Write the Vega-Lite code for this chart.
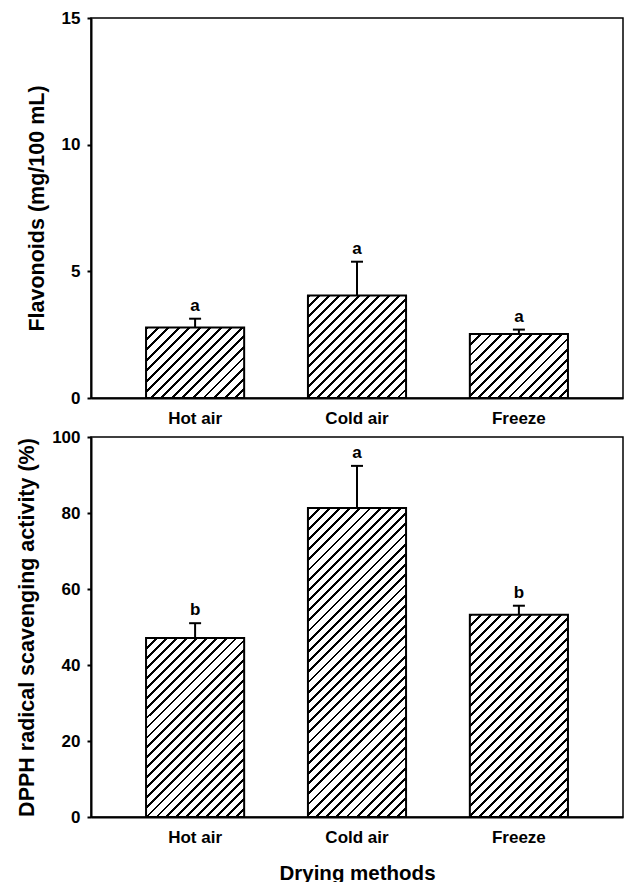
{
"$schema": "https://vega.github.io/schema/vega-lite/v6.json",
"autosize": {"type": "none"},
"padding": {"left": 91, "top": 18, "right": 534, "bottom": 864},
"background": "white",
"datasets": {
"flav": [
{"method": "Hot air", "value": 2.78, "upper": 3.13, "letter": "a"},
{"method": "Cold air", "value": 4.05, "upper": 5.38, "letter": "a"},
{"method": "Freeze", "value": 2.53, "upper": 2.7, "letter": "a"}
],
"dpph": [
{"method": "Hot air", "value": 47.1, "upper": 51.0, "letter": "b"},
{"method": "Cold air", "value": 81.3, "upper": 92.4, "letter": "a"},
{"method": "Freeze", "value": 53.2, "upper": 55.6, "letter": "b"}
]
},
"spacing": 39,
"bounds": "flush",
"vconcat": [
{
"width": 532, "height": 380,
"data": {"name": "flav"},
"encoding": {
"x": {"field": "method", "type": "nominal", "sort": ["Hot air", "Cold air", "Freeze"], "scale": {"paddingInner": 0.394, "paddingOuter": 0.34}, "axis": {"title": null}},
"y": {"field": "value", "type": "quantitative", "scale": {"domain": [0, 15], "nice": false}, "axis": {"values": [0, 5, 10, 15], "title": "Flavonoids (mg/100 mL)"}}
},
"layer": [
{"transform": [{"filter": "datum.method === 'Hot air'"}], "mark": {"type": "bar", "stroke": "black", "strokeWidth": 2, "fill": {"gradient": "linear", "x1": 0, "y1": 0, "x2": 1.1336, "y2": 0.8139, "stops": [
{"offset":0,"color":"#000"},{"offset":0.0175,"color":"#000"},{"offset":0.0175,"color":"#fff"},
{"offset":0.0625,"color":"#fff"},{"offset":0.0625,"color":"#000"},{"offset":0.08,"color":"#000"},{"offset":0.08,"color":"#fff"},
{"offset":0.125,"color":"#fff"},{"offset":0.125,"color":"#000"},{"offset":0.1425,"color":"#000"},{"offset":0.1425,"color":"#fff"},
{"offset":0.1875,"color":"#fff"},{"offset":0.1875,"color":"#000"},{"offset":0.205,"color":"#000"},{"offset":0.205,"color":"#fff"},
{"offset":0.25,"color":"#fff"},{"offset":0.25,"color":"#000"},{"offset":0.2675,"color":"#000"},{"offset":0.2675,"color":"#fff"},
{"offset":0.3125,"color":"#fff"},{"offset":0.3125,"color":"#000"},{"offset":0.33,"color":"#000"},{"offset":0.33,"color":"#fff"},
{"offset":0.375,"color":"#fff"},{"offset":0.375,"color":"#000"},{"offset":0.3925,"color":"#000"},{"offset":0.3925,"color":"#fff"},
{"offset":0.4375,"color":"#fff"},{"offset":0.4375,"color":"#000"},{"offset":0.455,"color":"#000"},{"offset":0.455,"color":"#fff"},
{"offset":0.5,"color":"#fff"},{"offset":0.5,"color":"#000"},{"offset":0.5175,"color":"#000"},{"offset":0.5175,"color":"#fff"},
{"offset":0.5625,"color":"#fff"},{"offset":0.5625,"color":"#000"},{"offset":0.58,"color":"#000"},{"offset":0.58,"color":"#fff"},
{"offset":0.625,"color":"#fff"},{"offset":0.625,"color":"#000"},{"offset":0.6425,"color":"#000"},{"offset":0.6425,"color":"#fff"},
{"offset":0.6875,"color":"#fff"},{"offset":0.6875,"color":"#000"},{"offset":0.705,"color":"#000"},{"offset":0.705,"color":"#fff"},
{"offset":0.75,"color":"#fff"},{"offset":0.75,"color":"#000"},{"offset":0.7675,"color":"#000"},{"offset":0.7675,"color":"#fff"},
{"offset":0.8125,"color":"#fff"},{"offset":0.8125,"color":"#000"},{"offset":0.83,"color":"#000"},{"offset":0.83,"color":"#fff"},
{"offset":0.875,"color":"#fff"},{"offset":0.875,"color":"#000"},{"offset":0.8925,"color":"#000"},{"offset":0.8925,"color":"#fff"},
{"offset":0.9375,"color":"#fff"},{"offset":0.9375,"color":"#000"},{"offset":0.955,"color":"#000"},{"offset":0.955,"color":"#fff"},
{"offset":1,"color":"#fff"}]}}},
{"transform": [{"filter": "datum.method === 'Cold air'"}], "mark": {"type": "bar", "stroke": "black", "strokeWidth": 2, "fill": {"gradient": "linear", "x1": 0, "y1": 0, "x2": 0.9771, "y2": 1.0219, "stops": [
{"offset":0,"color":"#000"},{"offset":0.014,"color":"#000"},{"offset":0.014,"color":"#fff"},
{"offset":0.05,"color":"#fff"},{"offset":0.05,"color":"#000"},{"offset":0.064,"color":"#000"},{"offset":0.064,"color":"#fff"},
{"offset":0.1,"color":"#fff"},{"offset":0.1,"color":"#000"},{"offset":0.114,"color":"#000"},{"offset":0.114,"color":"#fff"},
{"offset":0.15,"color":"#fff"},{"offset":0.15,"color":"#000"},{"offset":0.164,"color":"#000"},{"offset":0.164,"color":"#fff"},
{"offset":0.2,"color":"#fff"},{"offset":0.2,"color":"#000"},{"offset":0.214,"color":"#000"},{"offset":0.214,"color":"#fff"},
{"offset":0.25,"color":"#fff"},{"offset":0.25,"color":"#000"},{"offset":0.264,"color":"#000"},{"offset":0.264,"color":"#fff"},
{"offset":0.3,"color":"#fff"},{"offset":0.3,"color":"#000"},{"offset":0.314,"color":"#000"},{"offset":0.314,"color":"#fff"},
{"offset":0.35,"color":"#fff"},{"offset":0.35,"color":"#000"},{"offset":0.364,"color":"#000"},{"offset":0.364,"color":"#fff"},
{"offset":0.4,"color":"#fff"},{"offset":0.4,"color":"#000"},{"offset":0.414,"color":"#000"},{"offset":0.414,"color":"#fff"},
{"offset":0.45,"color":"#fff"},{"offset":0.45,"color":"#000"},{"offset":0.464,"color":"#000"},{"offset":0.464,"color":"#fff"},
{"offset":0.5,"color":"#fff"},{"offset":0.5,"color":"#000"},{"offset":0.514,"color":"#000"},{"offset":0.514,"color":"#fff"},
{"offset":0.55,"color":"#fff"},{"offset":0.55,"color":"#000"},{"offset":0.564,"color":"#000"},{"offset":0.564,"color":"#fff"},
{"offset":0.6,"color":"#fff"},{"offset":0.6,"color":"#000"},{"offset":0.614,"color":"#000"},{"offset":0.614,"color":"#fff"},
{"offset":0.65,"color":"#fff"},{"offset":0.65,"color":"#000"},{"offset":0.664,"color":"#000"},{"offset":0.664,"color":"#fff"},
{"offset":0.7,"color":"#fff"},{"offset":0.7,"color":"#000"},{"offset":0.714,"color":"#000"},{"offset":0.714,"color":"#fff"},
{"offset":0.75,"color":"#fff"},{"offset":0.75,"color":"#000"},{"offset":0.764,"color":"#000"},{"offset":0.764,"color":"#fff"},
{"offset":0.8,"color":"#fff"},{"offset":0.8,"color":"#000"},{"offset":0.814,"color":"#000"},{"offset":0.814,"color":"#fff"},
{"offset":0.85,"color":"#fff"},{"offset":0.85,"color":"#000"},{"offset":0.864,"color":"#000"},{"offset":0.864,"color":"#fff"},
{"offset":0.9,"color":"#fff"},{"offset":0.9,"color":"#000"},{"offset":0.914,"color":"#000"},{"offset":0.914,"color":"#fff"},
{"offset":0.95,"color":"#fff"},{"offset":0.95,"color":"#000"},{"offset":0.964,"color":"#000"},{"offset":0.964,"color":"#fff"},
{"offset":1,"color":"#fff"}]}}},
{"transform": [{"filter": "datum.method === 'Freeze'"}], "mark": {"type": "bar", "stroke": "black", "strokeWidth": 2, "fill": {"gradient": "linear", "x1": 0, "y1": 0, "x2": 1.1587, "y2": 0.757, "stops": [
{"offset":0,"color":"#000"},{"offset":0.0175,"color":"#000"},{"offset":0.0175,"color":"#fff"},
{"offset":0.0625,"color":"#fff"},{"offset":0.0625,"color":"#000"},{"offset":0.08,"color":"#000"},{"offset":0.08,"color":"#fff"},
{"offset":0.125,"color":"#fff"},{"offset":0.125,"color":"#000"},{"offset":0.1425,"color":"#000"},{"offset":0.1425,"color":"#fff"},
{"offset":0.1875,"color":"#fff"},{"offset":0.1875,"color":"#000"},{"offset":0.205,"color":"#000"},{"offset":0.205,"color":"#fff"},
{"offset":0.25,"color":"#fff"},{"offset":0.25,"color":"#000"},{"offset":0.2675,"color":"#000"},{"offset":0.2675,"color":"#fff"},
{"offset":0.3125,"color":"#fff"},{"offset":0.3125,"color":"#000"},{"offset":0.33,"color":"#000"},{"offset":0.33,"color":"#fff"},
{"offset":0.375,"color":"#fff"},{"offset":0.375,"color":"#000"},{"offset":0.3925,"color":"#000"},{"offset":0.3925,"color":"#fff"},
{"offset":0.4375,"color":"#fff"},{"offset":0.4375,"color":"#000"},{"offset":0.455,"color":"#000"},{"offset":0.455,"color":"#fff"},
{"offset":0.5,"color":"#fff"},{"offset":0.5,"color":"#000"},{"offset":0.5175,"color":"#000"},{"offset":0.5175,"color":"#fff"},
{"offset":0.5625,"color":"#fff"},{"offset":0.5625,"color":"#000"},{"offset":0.58,"color":"#000"},{"offset":0.58,"color":"#fff"},
{"offset":0.625,"color":"#fff"},{"offset":0.625,"color":"#000"},{"offset":0.6425,"color":"#000"},{"offset":0.6425,"color":"#fff"},
{"offset":0.6875,"color":"#fff"},{"offset":0.6875,"color":"#000"},{"offset":0.705,"color":"#000"},{"offset":0.705,"color":"#fff"},
{"offset":0.75,"color":"#fff"},{"offset":0.75,"color":"#000"},{"offset":0.7675,"color":"#000"},{"offset":0.7675,"color":"#fff"},
{"offset":0.8125,"color":"#fff"},{"offset":0.8125,"color":"#000"},{"offset":0.83,"color":"#000"},{"offset":0.83,"color":"#fff"},
{"offset":0.875,"color":"#fff"},{"offset":0.875,"color":"#000"},{"offset":0.8925,"color":"#000"},{"offset":0.8925,"color":"#fff"},
{"offset":0.9375,"color":"#fff"},{"offset":0.9375,"color":"#000"},{"offset":0.955,"color":"#000"},{"offset":0.955,"color":"#fff"},
{"offset":1,"color":"#fff"}]}}},
{"mark": {"type": "rule", "strokeWidth": 2, "color": "black"}, "encoding": {"y2": {"field": "upper"}}},
{"mark": {"type": "tick", "size": 12, "thickness": 2, "color": "black", "opacity": 1}, "encoding": {"y": {"field": "upper", "type": "quantitative"}}},
{"mark": {"type": "text", "dy": -8, "fontSize": 17, "fontWeight": "bold", "font": "Liberation Sans", "baseline": "alphabetic", "color": "black"}, "encoding": {"y": {"field": "upper", "type": "quantitative"}, "text": {"field": "letter"}}}
]
},
{
"width": 532, "height": 380,
"data": {"name": "dpph"},
"encoding": {
"x": {"field": "method", "type": "nominal", "sort": ["Hot air", "Cold air", "Freeze"], "scale": {"paddingInner": 0.394, "paddingOuter": 0.34}, "axis": {"title": "Drying methods", "titleFontSize": 20.5, "titlePadding": 18}},
"y": {"field": "value", "type": "quantitative", "scale": {"domain": [0, 100], "nice": false}, "axis": {"values": [0, 20, 40, 60, 80, 100], "title": "DPPH radical scavenging activity (%)"}}
},
"layer": [
{"transform": [{"filter": "datum.method === 'Hot air'"}], "mark": {"type": "bar", "stroke": "black", "strokeWidth": 2, "fill": {"gradient": "linear", "x1": 0, "y1": 0, "x2": 0.6525, "y2": 1.1905, "stops": [
{"offset":0,"color":"#000"},{"offset":0.01,"color":"#000"},{"offset":0.01,"color":"#fff"},
{"offset":0.0357,"color":"#fff"},{"offset":0.0357,"color":"#000"},{"offset":0.0457,"color":"#000"},{"offset":0.0457,"color":"#fff"},
{"offset":0.0714,"color":"#fff"},{"offset":0.0714,"color":"#000"},{"offset":0.0814,"color":"#000"},{"offset":0.0814,"color":"#fff"},
{"offset":0.1071,"color":"#fff"},{"offset":0.1071,"color":"#000"},{"offset":0.1171,"color":"#000"},{"offset":0.1171,"color":"#fff"},
{"offset":0.1429,"color":"#fff"},{"offset":0.1429,"color":"#000"},{"offset":0.1529,"color":"#000"},{"offset":0.1529,"color":"#fff"},
{"offset":0.1786,"color":"#fff"},{"offset":0.1786,"color":"#000"},{"offset":0.1886,"color":"#000"},{"offset":0.1886,"color":"#fff"},
{"offset":0.2143,"color":"#fff"},{"offset":0.2143,"color":"#000"},{"offset":0.2243,"color":"#000"},{"offset":0.2243,"color":"#fff"},
{"offset":0.25,"color":"#fff"},{"offset":0.25,"color":"#000"},{"offset":0.26,"color":"#000"},{"offset":0.26,"color":"#fff"},
{"offset":0.2857,"color":"#fff"},{"offset":0.2857,"color":"#000"},{"offset":0.2957,"color":"#000"},{"offset":0.2957,"color":"#fff"},
{"offset":0.3214,"color":"#fff"},{"offset":0.3214,"color":"#000"},{"offset":0.3314,"color":"#000"},{"offset":0.3314,"color":"#fff"},
{"offset":0.3571,"color":"#fff"},{"offset":0.3571,"color":"#000"},{"offset":0.3671,"color":"#000"},{"offset":0.3671,"color":"#fff"},
{"offset":0.3929,"color":"#fff"},{"offset":0.3929,"color":"#000"},{"offset":0.4029,"color":"#000"},{"offset":0.4029,"color":"#fff"},
{"offset":0.4286,"color":"#fff"},{"offset":0.4286,"color":"#000"},{"offset":0.4386,"color":"#000"},{"offset":0.4386,"color":"#fff"},
{"offset":0.4643,"color":"#fff"},{"offset":0.4643,"color":"#000"},{"offset":0.4743,"color":"#000"},{"offset":0.4743,"color":"#fff"},
{"offset":0.5,"color":"#fff"},{"offset":0.5,"color":"#000"},{"offset":0.51,"color":"#000"},{"offset":0.51,"color":"#fff"},
{"offset":0.5357,"color":"#fff"},{"offset":0.5357,"color":"#000"},{"offset":0.5457,"color":"#000"},{"offset":0.5457,"color":"#fff"},
{"offset":0.5714,"color":"#fff"},{"offset":0.5714,"color":"#000"},{"offset":0.5814,"color":"#000"},{"offset":0.5814,"color":"#fff"},
{"offset":0.6071,"color":"#fff"},{"offset":0.6071,"color":"#000"},{"offset":0.6171,"color":"#000"},{"offset":0.6171,"color":"#fff"},
{"offset":0.6429,"color":"#fff"},{"offset":0.6429,"color":"#000"},{"offset":0.6529,"color":"#000"},{"offset":0.6529,"color":"#fff"},
{"offset":0.6786,"color":"#fff"},{"offset":0.6786,"color":"#000"},{"offset":0.6886,"color":"#000"},{"offset":0.6886,"color":"#fff"},
{"offset":0.7143,"color":"#fff"},{"offset":0.7143,"color":"#000"},{"offset":0.7243,"color":"#000"},{"offset":0.7243,"color":"#fff"},
{"offset":0.75,"color":"#fff"},{"offset":0.75,"color":"#000"},{"offset":0.76,"color":"#000"},{"offset":0.76,"color":"#fff"},
{"offset":0.7857,"color":"#fff"},{"offset":0.7857,"color":"#000"},{"offset":0.7957,"color":"#000"},{"offset":0.7957,"color":"#fff"},
{"offset":0.8214,"color":"#fff"},{"offset":0.8214,"color":"#000"},{"offset":0.8314,"color":"#000"},{"offset":0.8314,"color":"#fff"},
{"offset":0.8571,"color":"#fff"},{"offset":0.8571,"color":"#000"},{"offset":0.8671,"color":"#000"},{"offset":0.8671,"color":"#fff"},
{"offset":0.8929,"color":"#fff"},{"offset":0.8929,"color":"#000"},{"offset":0.9029,"color":"#000"},{"offset":0.9029,"color":"#fff"},
{"offset":0.9286,"color":"#fff"},{"offset":0.9286,"color":"#000"},{"offset":0.9386,"color":"#000"},{"offset":0.9386,"color":"#fff"},
{"offset":0.9643,"color":"#fff"},{"offset":0.9643,"color":"#000"},{"offset":0.9743,"color":"#000"},{"offset":0.9743,"color":"#fff"},
{"offset":1,"color":"#fff"}]}}},
{"transform": [{"filter": "datum.method === 'Cold air'"}], "mark": {"type": "bar", "stroke": "black", "strokeWidth": 2, "fill": {"gradient": "linear", "x1": 0, "y1": 0, "x2": 0.3801, "y2": 1.1969, "stops": [
{"offset":0,"color":"#000"},{"offset":0.007,"color":"#000"},{"offset":0.007,"color":"#fff"},
{"offset":0.025,"color":"#fff"},{"offset":0.025,"color":"#000"},{"offset":0.032,"color":"#000"},{"offset":0.032,"color":"#fff"},
{"offset":0.05,"color":"#fff"},{"offset":0.05,"color":"#000"},{"offset":0.057,"color":"#000"},{"offset":0.057,"color":"#fff"},
{"offset":0.075,"color":"#fff"},{"offset":0.075,"color":"#000"},{"offset":0.082,"color":"#000"},{"offset":0.082,"color":"#fff"},
{"offset":0.1,"color":"#fff"},{"offset":0.1,"color":"#000"},{"offset":0.107,"color":"#000"},{"offset":0.107,"color":"#fff"},
{"offset":0.125,"color":"#fff"},{"offset":0.125,"color":"#000"},{"offset":0.132,"color":"#000"},{"offset":0.132,"color":"#fff"},
{"offset":0.15,"color":"#fff"},{"offset":0.15,"color":"#000"},{"offset":0.157,"color":"#000"},{"offset":0.157,"color":"#fff"},
{"offset":0.175,"color":"#fff"},{"offset":0.175,"color":"#000"},{"offset":0.182,"color":"#000"},{"offset":0.182,"color":"#fff"},
{"offset":0.2,"color":"#fff"},{"offset":0.2,"color":"#000"},{"offset":0.207,"color":"#000"},{"offset":0.207,"color":"#fff"},
{"offset":0.225,"color":"#fff"},{"offset":0.225,"color":"#000"},{"offset":0.232,"color":"#000"},{"offset":0.232,"color":"#fff"},
{"offset":0.25,"color":"#fff"},{"offset":0.25,"color":"#000"},{"offset":0.257,"color":"#000"},{"offset":0.257,"color":"#fff"},
{"offset":0.275,"color":"#fff"},{"offset":0.275,"color":"#000"},{"offset":0.282,"color":"#000"},{"offset":0.282,"color":"#fff"},
{"offset":0.3,"color":"#fff"},{"offset":0.3,"color":"#000"},{"offset":0.307,"color":"#000"},{"offset":0.307,"color":"#fff"},
{"offset":0.325,"color":"#fff"},{"offset":0.325,"color":"#000"},{"offset":0.332,"color":"#000"},{"offset":0.332,"color":"#fff"},
{"offset":0.35,"color":"#fff"},{"offset":0.35,"color":"#000"},{"offset":0.357,"color":"#000"},{"offset":0.357,"color":"#fff"},
{"offset":0.375,"color":"#fff"},{"offset":0.375,"color":"#000"},{"offset":0.382,"color":"#000"},{"offset":0.382,"color":"#fff"},
{"offset":0.4,"color":"#fff"},{"offset":0.4,"color":"#000"},{"offset":0.407,"color":"#000"},{"offset":0.407,"color":"#fff"},
{"offset":0.425,"color":"#fff"},{"offset":0.425,"color":"#000"},{"offset":0.432,"color":"#000"},{"offset":0.432,"color":"#fff"},
{"offset":0.45,"color":"#fff"},{"offset":0.45,"color":"#000"},{"offset":0.457,"color":"#000"},{"offset":0.457,"color":"#fff"},
{"offset":0.475,"color":"#fff"},{"offset":0.475,"color":"#000"},{"offset":0.482,"color":"#000"},{"offset":0.482,"color":"#fff"},
{"offset":0.5,"color":"#fff"},{"offset":0.5,"color":"#000"},{"offset":0.507,"color":"#000"},{"offset":0.507,"color":"#fff"},
{"offset":0.525,"color":"#fff"},{"offset":0.525,"color":"#000"},{"offset":0.532,"color":"#000"},{"offset":0.532,"color":"#fff"},
{"offset":0.55,"color":"#fff"},{"offset":0.55,"color":"#000"},{"offset":0.557,"color":"#000"},{"offset":0.557,"color":"#fff"},
{"offset":0.575,"color":"#fff"},{"offset":0.575,"color":"#000"},{"offset":0.582,"color":"#000"},{"offset":0.582,"color":"#fff"},
{"offset":0.6,"color":"#fff"},{"offset":0.6,"color":"#000"},{"offset":0.607,"color":"#000"},{"offset":0.607,"color":"#fff"},
{"offset":0.625,"color":"#fff"},{"offset":0.625,"color":"#000"},{"offset":0.632,"color":"#000"},{"offset":0.632,"color":"#fff"},
{"offset":0.65,"color":"#fff"},{"offset":0.65,"color":"#000"},{"offset":0.657,"color":"#000"},{"offset":0.657,"color":"#fff"},
{"offset":0.675,"color":"#fff"},{"offset":0.675,"color":"#000"},{"offset":0.682,"color":"#000"},{"offset":0.682,"color":"#fff"},
{"offset":0.7,"color":"#fff"},{"offset":0.7,"color":"#000"},{"offset":0.707,"color":"#000"},{"offset":0.707,"color":"#fff"},
{"offset":0.725,"color":"#fff"},{"offset":0.725,"color":"#000"},{"offset":0.732,"color":"#000"},{"offset":0.732,"color":"#fff"},
{"offset":0.75,"color":"#fff"},{"offset":0.75,"color":"#000"},{"offset":0.757,"color":"#000"},{"offset":0.757,"color":"#fff"},
{"offset":0.775,"color":"#fff"},{"offset":0.775,"color":"#000"},{"offset":0.782,"color":"#000"},{"offset":0.782,"color":"#fff"},
{"offset":0.8,"color":"#fff"},{"offset":0.8,"color":"#000"},{"offset":0.807,"color":"#000"},{"offset":0.807,"color":"#fff"},
{"offset":0.825,"color":"#fff"},{"offset":0.825,"color":"#000"},{"offset":0.832,"color":"#000"},{"offset":0.832,"color":"#fff"},
{"offset":0.85,"color":"#fff"},{"offset":0.85,"color":"#000"},{"offset":0.857,"color":"#000"},{"offset":0.857,"color":"#fff"},
{"offset":0.875,"color":"#fff"},{"offset":0.875,"color":"#000"},{"offset":0.882,"color":"#000"},{"offset":0.882,"color":"#fff"},
{"offset":0.9,"color":"#fff"},{"offset":0.9,"color":"#000"},{"offset":0.907,"color":"#000"},{"offset":0.907,"color":"#fff"},
{"offset":0.925,"color":"#fff"},{"offset":0.925,"color":"#000"},{"offset":0.932,"color":"#000"},{"offset":0.932,"color":"#fff"},
{"offset":0.95,"color":"#fff"},{"offset":0.95,"color":"#000"},{"offset":0.957,"color":"#000"},{"offset":0.957,"color":"#fff"},
{"offset":0.975,"color":"#fff"},{"offset":0.975,"color":"#000"},{"offset":0.982,"color":"#000"},{"offset":0.982,"color":"#fff"},
{"offset":1,"color":"#fff"}]}}},
{"transform": [{"filter": "datum.method === 'Freeze'"}], "mark": {"type": "bar", "stroke": "black", "strokeWidth": 2, "fill": {"gradient": "linear", "x1": 0, "y1": 0, "x2": 0.5834, "y2": 1.2022, "stops": [
{"offset":0,"color":"#000"},{"offset":0.0093,"color":"#000"},{"offset":0.0093,"color":"#fff"},
{"offset":0.0333,"color":"#fff"},{"offset":0.0333,"color":"#000"},{"offset":0.0426,"color":"#000"},{"offset":0.0426,"color":"#fff"},
{"offset":0.0667,"color":"#fff"},{"offset":0.0667,"color":"#000"},{"offset":0.076,"color":"#000"},{"offset":0.076,"color":"#fff"},
{"offset":0.1,"color":"#fff"},{"offset":0.1,"color":"#000"},{"offset":0.1093,"color":"#000"},{"offset":0.1093,"color":"#fff"},
{"offset":0.1333,"color":"#fff"},{"offset":0.1333,"color":"#000"},{"offset":0.1426,"color":"#000"},{"offset":0.1426,"color":"#fff"},
{"offset":0.1667,"color":"#fff"},{"offset":0.1667,"color":"#000"},{"offset":0.176,"color":"#000"},{"offset":0.176,"color":"#fff"},
{"offset":0.2,"color":"#fff"},{"offset":0.2,"color":"#000"},{"offset":0.2093,"color":"#000"},{"offset":0.2093,"color":"#fff"},
{"offset":0.2333,"color":"#fff"},{"offset":0.2333,"color":"#000"},{"offset":0.2426,"color":"#000"},{"offset":0.2426,"color":"#fff"},
{"offset":0.2667,"color":"#fff"},{"offset":0.2667,"color":"#000"},{"offset":0.276,"color":"#000"},{"offset":0.276,"color":"#fff"},
{"offset":0.3,"color":"#fff"},{"offset":0.3,"color":"#000"},{"offset":0.3093,"color":"#000"},{"offset":0.3093,"color":"#fff"},
{"offset":0.3333,"color":"#fff"},{"offset":0.3333,"color":"#000"},{"offset":0.3426,"color":"#000"},{"offset":0.3426,"color":"#fff"},
{"offset":0.3667,"color":"#fff"},{"offset":0.3667,"color":"#000"},{"offset":0.376,"color":"#000"},{"offset":0.376,"color":"#fff"},
{"offset":0.4,"color":"#fff"},{"offset":0.4,"color":"#000"},{"offset":0.4093,"color":"#000"},{"offset":0.4093,"color":"#fff"},
{"offset":0.4333,"color":"#fff"},{"offset":0.4333,"color":"#000"},{"offset":0.4426,"color":"#000"},{"offset":0.4426,"color":"#fff"},
{"offset":0.4667,"color":"#fff"},{"offset":0.4667,"color":"#000"},{"offset":0.476,"color":"#000"},{"offset":0.476,"color":"#fff"},
{"offset":0.5,"color":"#fff"},{"offset":0.5,"color":"#000"},{"offset":0.5093,"color":"#000"},{"offset":0.5093,"color":"#fff"},
{"offset":0.5333,"color":"#fff"},{"offset":0.5333,"color":"#000"},{"offset":0.5426,"color":"#000"},{"offset":0.5426,"color":"#fff"},
{"offset":0.5667,"color":"#fff"},{"offset":0.5667,"color":"#000"},{"offset":0.576,"color":"#000"},{"offset":0.576,"color":"#fff"},
{"offset":0.6,"color":"#fff"},{"offset":0.6,"color":"#000"},{"offset":0.6093,"color":"#000"},{"offset":0.6093,"color":"#fff"},
{"offset":0.6333,"color":"#fff"},{"offset":0.6333,"color":"#000"},{"offset":0.6426,"color":"#000"},{"offset":0.6426,"color":"#fff"},
{"offset":0.6667,"color":"#fff"},{"offset":0.6667,"color":"#000"},{"offset":0.676,"color":"#000"},{"offset":0.676,"color":"#fff"},
{"offset":0.7,"color":"#fff"},{"offset":0.7,"color":"#000"},{"offset":0.7093,"color":"#000"},{"offset":0.7093,"color":"#fff"},
{"offset":0.7333,"color":"#fff"},{"offset":0.7333,"color":"#000"},{"offset":0.7426,"color":"#000"},{"offset":0.7426,"color":"#fff"},
{"offset":0.7667,"color":"#fff"},{"offset":0.7667,"color":"#000"},{"offset":0.776,"color":"#000"},{"offset":0.776,"color":"#fff"},
{"offset":0.8,"color":"#fff"},{"offset":0.8,"color":"#000"},{"offset":0.8093,"color":"#000"},{"offset":0.8093,"color":"#fff"},
{"offset":0.8333,"color":"#fff"},{"offset":0.8333,"color":"#000"},{"offset":0.8426,"color":"#000"},{"offset":0.8426,"color":"#fff"},
{"offset":0.8667,"color":"#fff"},{"offset":0.8667,"color":"#000"},{"offset":0.876,"color":"#000"},{"offset":0.876,"color":"#fff"},
{"offset":0.9,"color":"#fff"},{"offset":0.9,"color":"#000"},{"offset":0.9093,"color":"#000"},{"offset":0.9093,"color":"#fff"},
{"offset":0.9333,"color":"#fff"},{"offset":0.9333,"color":"#000"},{"offset":0.9426,"color":"#000"},{"offset":0.9426,"color":"#fff"},
{"offset":0.9667,"color":"#fff"},{"offset":0.9667,"color":"#000"},{"offset":0.976,"color":"#000"},{"offset":0.976,"color":"#fff"},
{"offset":1,"color":"#fff"}]}}},
{"mark": {"type": "rule", "strokeWidth": 2, "color": "black"}, "encoding": {"y2": {"field": "upper"}}},
{"mark": {"type": "tick", "size": 12, "thickness": 2, "color": "black", "opacity": 1}, "encoding": {"y": {"field": "upper", "type": "quantitative"}}},
{"mark": {"type": "text", "dy": -8, "fontSize": 17, "fontWeight": "bold", "font": "Liberation Sans", "baseline": "alphabetic", "color": "black"}, "encoding": {"y": {"field": "upper", "type": "quantitative"}, "text": {"field": "letter"}}}
]
}
],
"config": {
"font": "Liberation Sans",
"view": {"stroke": "black", "strokeWidth": 1.5},
"axis": {"domainColor": "black", "domainWidth": 2, "labelFont": "Liberation Sans", "labelFontWeight": "bold", "labelFontSize": 17, "labelColor": "black", "titleFont": "Liberation Sans", "titleFontWeight": "bold", "titleFontSize": 21.5, "titleColor": "black", "grid": false, "tickColor": "black", "tickWidth": 2, "tickSize": 4},
"axisX": {"ticks": false, "labelAngle": 0, "labelPadding": 12, "titlePadding": 14},
"axisY": {"labelPadding": 7, "titlePadding": 13}
}
}
